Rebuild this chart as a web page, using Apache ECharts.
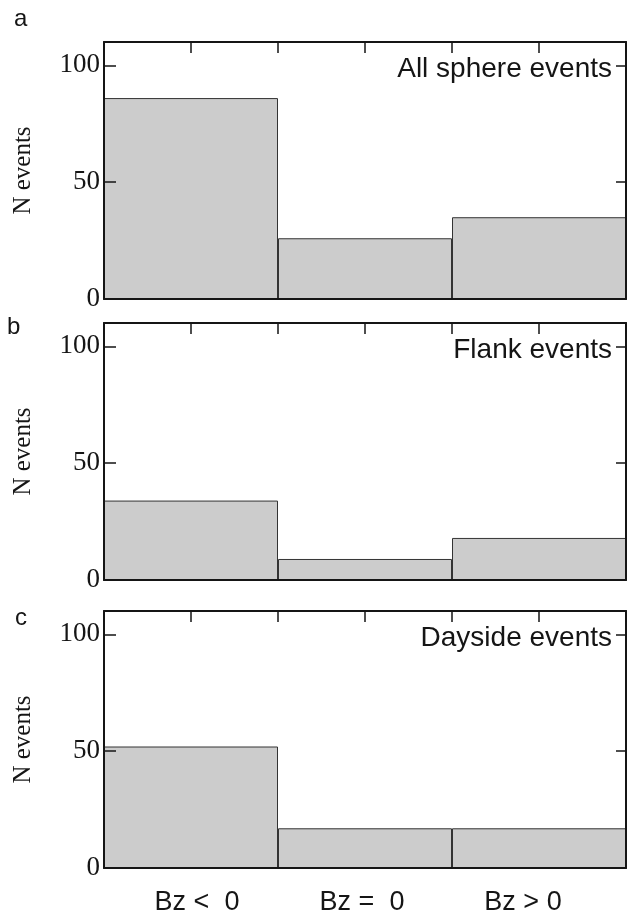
<!DOCTYPE html>
<html>
<head>
<meta charset="utf-8">
<title>N events by Bz</title>
<script src="https://cdn.jsdelivr.net/npm/echarts@6/dist/echarts.min.js"></script>
<style>
  html, body { margin: 0; padding: 0; background: #fff; }
  #main { width: 627px; height: 916px; }
</style>
</head>
<body>
<div id="main"></div>
<script>
// data
const categories = ['Bz <  0', 'Bz =  0', 'Bz > 0'];
const allSphere = [86, 26, 35];
const flank = [34, 9, 18];
const dayside = [52, 17, 17];
const panelSeries = [allSphere, flank, dayside];
const panelNames = ['All sphere events', 'Flank events', 'Dayside events'];
const panelLetters = ['a', 'b', 'c'];
const yTicks = [0, 50, 100];
const yInnerTicks = [50, 100];

// layout
const gridTops = [42, 323, 611];
const gridHeight = 257;
const letterTops = [7, 315, 606];
const letterLefts = [14, 7, 15];
const serif = '"Liberation Serif", "Times New Roman", serif';
const sans = '"Liberation Sans", Arial, sans-serif';
const ink = '#151515';

const chart = echarts.init(document.getElementById('main'), null, { renderer: 'canvas' });

const grids = [];
const xAxes = [];
const yAxes = [];
const series = [];
const titles = [];

// label offsets so the bottom labels sit where the figure has them
const labelRich = {
  l0: { fontFamily: sans, fontSize: 27, color: ink, padding: [0, 0, 0, 12] },
  l1: { fontFamily: sans, fontSize: 27, color: ink, padding: [0, 6, 0, 0] },
  l2: { fontFamily: sans, fontSize: 27, color: ink, padding: [0, 32, 0, 0] }
};

panelSeries.forEach(function (values, i) {
  grids.push({ left: 104, right: 1, top: gridTops[i], height: gridHeight });

  // bottom category axis (bars)
  xAxes.push({
    type: 'category',
    gridIndex: i,
    data: categories,
    boundaryGap: true,
    z: 3,
    axisLine: { lineStyle: { color: ink, width: 2 } },
    axisTick: { show: false },
    axisLabel: {
      show: i === 2,
      margin: 21,
      fontFamily: sans,
      fontSize: 27,
      color: ink,
      formatter: function (val, idx) { return '{l' + idx + '|' + val + '}'; },
      rich: labelRich
    }
  });
  // top axis, only ticks
  xAxes.push({
    type: 'value',
    gridIndex: i,
    position: 'top',
    min: 0,
    max: 6,
    interval: 1,
    z: 3,
    axisLine: { show: true, onZero: false, lineStyle: { color: ink, width: 2 } },
    axisTick: { show: true, inside: true, length: 11, lineStyle: { color: ink, width: 1.5 } },
    axisLabel: { show: false },
    splitLine: { show: false }
  });

  yAxes.push({
    type: 'value',
    gridIndex: i,
    position: 'left',
    min: 0,
    max: 110,
    z: 3,
    name: 'N events',
    nameLocation: 'middle',
    nameRotate: 90,
    nameGap: 68,
    nameTextStyle: { fontFamily: serif, fontSize: 25, color: ink },
    axisLine: { show: true, onZero: false, lineStyle: { color: ink, width: 2 } },
    axisTick: { show: true, inside: true, length: 12, customValues: yInnerTicks, lineStyle: { color: ink, width: 1.5 } },
    axisLabel: { customValues: yTicks, margin: 4, fontFamily: serif, fontSize: 27, color: ink },
    splitLine: { show: false }
  });
  yAxes.push({
    type: 'value',
    gridIndex: i,
    position: 'right',
    min: 0,
    max: 110,
    z: 3,
    axisLine: { show: true, onZero: false, lineStyle: { color: ink, width: 2 } },
    axisTick: { show: true, inside: true, length: 10, customValues: yInnerTicks, lineStyle: { color: ink, width: 1.5 } },
    axisLabel: { show: false },
    splitLine: { show: false }
  });

  series.push({
    type: 'bar',
    xAxisIndex: 2 * i,
    yAxisIndex: 2 * i,
    data: values,
    barWidth: '100%',
    silent: true,
    itemStyle: { color: '#cccccc', borderColor: '#333333', borderWidth: 1 }
  });

  titles.push({
    text: panelNames[i],
    right: 15,
    top: gridTops[i] + 13,
    padding: 0,
    textStyle: { fontFamily: sans, fontSize: 28, fontWeight: 'normal', color: ink }
  });
  titles.push({
    text: panelLetters[i],
    left: letterLefts[i],
    top: letterTops[i],
    padding: 0,
    textStyle: { fontFamily: sans, fontSize: 24, fontWeight: 'normal', color: ink }
  });
});

chart.setOption({
  animation: false,
  backgroundColor: '#fff',
  title: titles,
  grid: grids,
  xAxis: xAxes,
  yAxis: yAxes,
  series: series
});
</script>
</body>
</html>
